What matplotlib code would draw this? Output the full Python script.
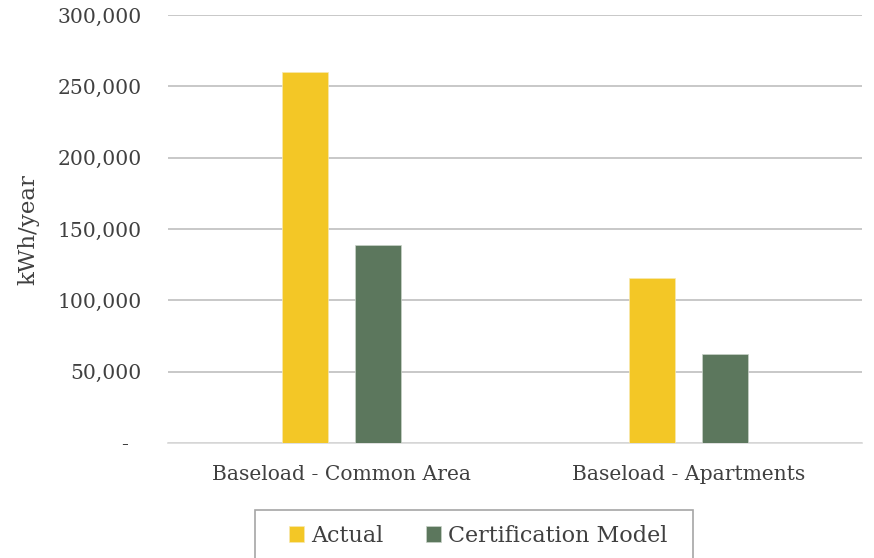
import numpy as np
import matplotlib.pyplot as plt
from matplotlib.ticker import FuncFormatter
from matplotlib.patches import Rectangle

categories = ["Baseload - Common Area", "Baseload - Apartments"]
actual = [260000, 116000]
certification = [139000, 62500]
series_names = ["Actual", "Certification Model"]

plt.rcParams['font.family'] = ['DejaVu Serif']

fig = plt.figure(figsize=(8.74, 5.58), dpi=100)
ax = fig.add_axes([168/874, 1 - 443/558, (862 - 168)/874, (443 - 15)/558])

x = np.arange(len(categories))
w = 0.133
off = 0.104
ax.bar(x - off, actual, w, color='#F3C726', edgecolor='#F7E9B0', linewidth=0.5,
       label=series_names[0], zorder=3)
ax.bar(x + off, certification, w, color='#5C775D', edgecolor='#C9D3C9', linewidth=0.5,
       label=series_names[1], zorder=3)

ax.set_xlim(-0.5, 1.5)
ax.set_ylim(0, 300000)
ax.set_yticks(np.arange(0, 300001, 50000))
ax.yaxis.set_major_formatter(FuncFormatter(lambda v, p: '-  ' if v == 0 else f'{int(v):,}'))
ax.set_xticks(x)
ax.set_xticklabels(categories)

ax.grid(axis='y', color='#BFBFBF', linewidth=1.2, zorder=0)
for s in ['top', 'right', 'left']:
    ax.spines[s].set_visible(False)
ax.spines['bottom'].set_color('#D9D9D9')
ax.spines['bottom'].set_linewidth(1.2)
ax.tick_params(axis='both', length=0, colors='#404040', labelsize=14.6)
ax.tick_params(axis='y', pad=19)
ax.tick_params(axis='x', pad=16)

fig.text(28/874, 1 - 230/558, 'kWh/year', rotation=90, ha='center', va='center',
         fontsize=16.5, color='#404040')

# legend box (cut by the bottom edge like the original)
fig.patches.append(Rectangle((255/874, -0.05), (693 - 255)/874, 0.05 + (558 - 510)/558,
                             transform=fig.transFigure, facecolor='white',
                             edgecolor='#A6A6A6', linewidth=1.2, zorder=1))
leg = fig.legend(loc='center', bbox_to_anchor=(478/874, 1 - 536/558), ncol=2,
                 frameon=False, fontsize=16, handlelength=0.7,
                 handleheight=0.7, handletextpad=0.3, columnspacing=1.9,
                 borderpad=0, borderaxespad=0)
leg.set_zorder(2)
for t in leg.get_texts():
    t.set_color('#404040')

fig.savefig('out.png', dpi=100)
